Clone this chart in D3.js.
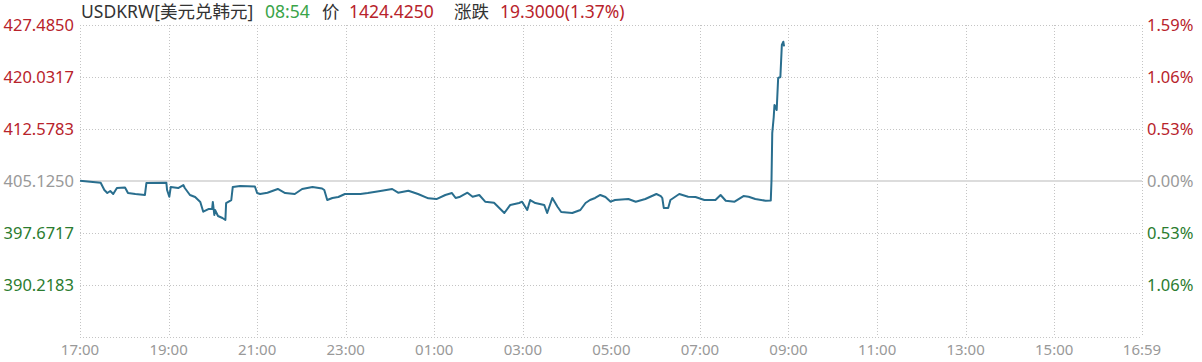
<!DOCTYPE html>
<html>
<head>
<meta charset="utf-8">
<script src="https://cdn.jsdelivr.net/npm/d3@7"></script>
<style>
    html, body { margin: 0; padding: 0; background: #fff; }
    svg { display: block; font-family: "Noto Sans", "Noto Sans CJK SC", sans-serif; }
</style>
</head>
<body>
<div id="chart"></div>
<script>
// header pieces
const headerTexts = ["USDKRW[美元兑韩元]", "08:54", "价", "1424.4250", "涨跌", "19.3000(1.37%)"];

// axes
const prevClose = 1405.125;
const yBottom = 1382.765;
const yTickValues = [1427.4850, 1420.0317, 1412.5783, 1405.1250, 1397.6717, 1390.2183];
const yTickLabels = ["427.4850", "420.0317", "412.5783", "405.1250", "397.6717", "390.2183"];
const pctLabels = ["1.59%", "1.06%", "0.53%", "0.00%", "0.53%", "1.06%"];
const xTickLabels = ["17:00", "19:00", "21:00", "23:00", "01:00", "03:00", "05:00",
    "07:00", "09:00", "11:00", "13:00", "15:00", "16:59"];

// intraday series
const priceTimes = [
    "17:00", "17:28", "17:33", "17:37", "17:41", "17:45", "17:50", "18:01", "18:05", "18:15",
    "18:28", "18:30", "18:57", "18:58", "19:01", "19:03", "19:13", "19:20", "19:22", "19:29",
    "19:36", "19:43", "19:47", "19:54", "19:59", "20:00", "20:02", "20:03", "20:07", "20:13",
    "20:17", "20:18", "20:25", "20:27", "20:37", "20:57", "21:00", "21:04", "21:14", "21:28",
    "21:38", "21:51", "22:01", "22:15", "22:28", "22:31", "22:35", "22:42", "22:50", "22:59",
    "23:20", "23:30", "23:47", "00:03", "00:11", "00:25", "00:38", "00:52", "01:03", "01:15",
    "01:24", "01:29", "01:34", "01:45", "01:52", "02:01", "02:09", "02:21", "02:35", "02:43",
    "02:55", "02:59", "03:06", "03:10", "03:17", "03:29", "03:33", "03:40", "03:47", "03:52",
    "04:07", "04:18", "04:25", "04:31", "04:38", "04:45", "04:52", "04:59", "05:05", "05:23",
    "05:33", "05:46", "06:01", "06:07", "06:09", "06:11", "06:17", "06:20", "06:32", "06:44",
    "06:54", "07:06", "07:21", "07:28", "07:35", "07:47", "07:59", "08:06", "08:15", "08:29",
    "08:36", "08:37", "08:38", "08:40", "08:41", "08:44", "08:46", "08:49", "08:51", "08:53",
    "08:54"
];
const priceValues = [
    1405.15, 1404.88, 1403.83, 1403.40, 1403.69, 1403.26, 1404.12, 1404.19, 1403.40, 1403.26,
    1403.12, 1404.84, 1404.88, 1403.83, 1402.87, 1404.27, 1404.12, 1404.55, 1404.12, 1403.12,
    1402.83, 1402.12, 1400.72, 1401.11, 1401.11, 1402.12, 1400.25, 1400.97, 1400.11, 1399.82,
    1399.53, 1401.97, 1402.40, 1404.27, 1404.41, 1404.34, 1403.40, 1403.26, 1403.45, 1403.98,
    1403.40, 1403.26, 1403.98, 1404.27, 1404.05, 1403.83, 1402.40, 1402.69, 1402.83, 1403.26,
    1403.26, 1403.40, 1403.69, 1403.98, 1403.45, 1403.73, 1403.26, 1402.64, 1402.54, 1403.12,
    1403.40, 1402.69, 1402.83, 1403.45, 1402.87, 1403.12, 1402.16, 1402.01, 1400.54, 1401.69,
    1401.97, 1402.16, 1400.97, 1402.40, 1401.97, 1401.69, 1400.54, 1402.69, 1401.44, 1400.68,
    1400.54, 1400.97, 1401.97, 1402.40, 1402.69, 1403.12, 1402.83, 1402.16, 1402.40, 1402.54,
    1402.16, 1402.54, 1403.26, 1402.97, 1402.69, 1401.26, 1401.26, 1402.40, 1403.26, 1402.87,
    1402.83, 1402.40, 1402.40, 1403.12, 1402.30, 1402.16, 1402.97, 1402.87, 1402.54, 1402.30,
    1402.33, 1405.27, 1412.00, 1414.30, 1416.02, 1415.30, 1419.89, 1420.03, 1424.62, 1425.09,
    1424.425
];

const width = 1202;
const height = 362;
const margin = { top: 25, right: 60, bottom: 25, left: 80 };

const red = "#b8232b";
const green = "#2b7c2f";
const gray = "#999";

// "HH:MM" -> Date; session runs 17:00 to 16:59 next day
const day0 = new Date(2024, 0, 1);
function toDate(s) {
    const [h, m] = s.split(":").map(Number);
    const d = new Date(day0);
    d.setHours(h, m);
    if (h < 17) d.setDate(d.getDate() + 1);
    return d;
}

const x = d3.scaleTime()
    .domain([toDate("17:00"), toDate("16:59")])
    .range([margin.left, width - margin.right]);

const y = d3.scaleLinear()
    .domain([yBottom, yTickValues[0]])
    .range([height - margin.bottom, margin.top]);

const svg = d3.select("#chart")
    .append("svg")
    .attr("width", width)
    .attr("height", height)
    .attr("viewBox", `0 0 ${width} ${height}`);

// grid
const grid = svg.append("g");

grid.selectAll(".hgrid")
    .data(yTickValues.filter(v => v !== prevClose).concat([yBottom]))
    .join("line")
    .attr("x1", margin.left)
    .attr("x2", width - margin.right)
    .attr("y1", d => Math.round(y(d)) + 0.5)
    .attr("y2", d => Math.round(y(d)) + 0.5)
    .attr("stroke", "#c4c4c4")
    .attr("stroke-dasharray", "1,2");

grid.selectAll(".vgrid")
    .data(xTickLabels)
    .join("line")
    .attr("x1", d => Math.round(x(toDate(d))) + 0.5)
    .attr("x2", d => Math.round(x(toDate(d))) + 0.5)
    .attr("y1", margin.top)
    .attr("y2", height - margin.bottom)
    .attr("stroke", "#c4c4c4")
    .attr("stroke-dasharray", "1,2");

// previous close line
grid.append("line")
    .attr("x1", margin.left)
    .attr("x2", width - margin.right)
    .attr("y1", y(prevClose))
    .attr("y2", y(prevClose))
    .attr("stroke", "#dcdcdc")
    .attr("stroke-width", 2);

// left axis labels
const labelColor = d => d > prevClose ? red : (d < prevClose ? green : gray);

svg.append("g")
    .selectAll("text")
    .data(yTickValues)
    .join("text")
    .attr("x", margin.left - 6)
    .attr("y", d => y(d))
    .attr("dy", "0.35em")
    .attr("text-anchor", "end")
    .attr("font-size", 16.5)
    .attr("fill", labelColor)
    .text((d, i) => yTickLabels[i]);

// right axis labels
svg.append("g")
    .selectAll("text")
    .data(yTickValues)
    .join("text")
    .attr("x", width - margin.right + 5)
    .attr("y", d => y(d))
    .attr("dy", "0.35em")
    .attr("font-size", 16.5)
    .attr("fill", labelColor)
    .text((d, i) => pctLabels[i]);

// bottom axis labels
svg.append("g")
    .selectAll("text")
    .data(xTickLabels)
    .join("text")
    .attr("x", d => x(toDate(d)))
    .attr("y", height - 12)
    .attr("dy", "0.35em")
    .attr("text-anchor", "middle")
    .attr("font-size", 15)
    .attr("fill", gray)
    .text(d => d);

// price line
const series = priceTimes.map((t, i) => ({ date: toDate(t), value: priceValues[i] }));

svg.append("path")
    .datum(series)
    .attr("fill", "none")
    .attr("stroke", "#296e8e")
    .attr("stroke-width", 2)
    .attr("stroke-linejoin", "round")
    .attr("d", d3.line()
        .x(d => x(d.date))
        .y(d => y(d.value)));

// header
const headerX = [81, 265, 322, 349, 454, 500];
const headerColors = ["#333", "#3aa449", "#333", red, "#333", red];

svg.append("g")
    .selectAll("text")
    .data(headerTexts)
    .join("text")
    .attr("x", (d, i) => headerX[i])
    .attr("y", 18)
    .attr("font-size", 17.5)
    .attr("fill", (d, i) => headerColors[i])
    .text(d => d);
</script>
</body>
</html>
